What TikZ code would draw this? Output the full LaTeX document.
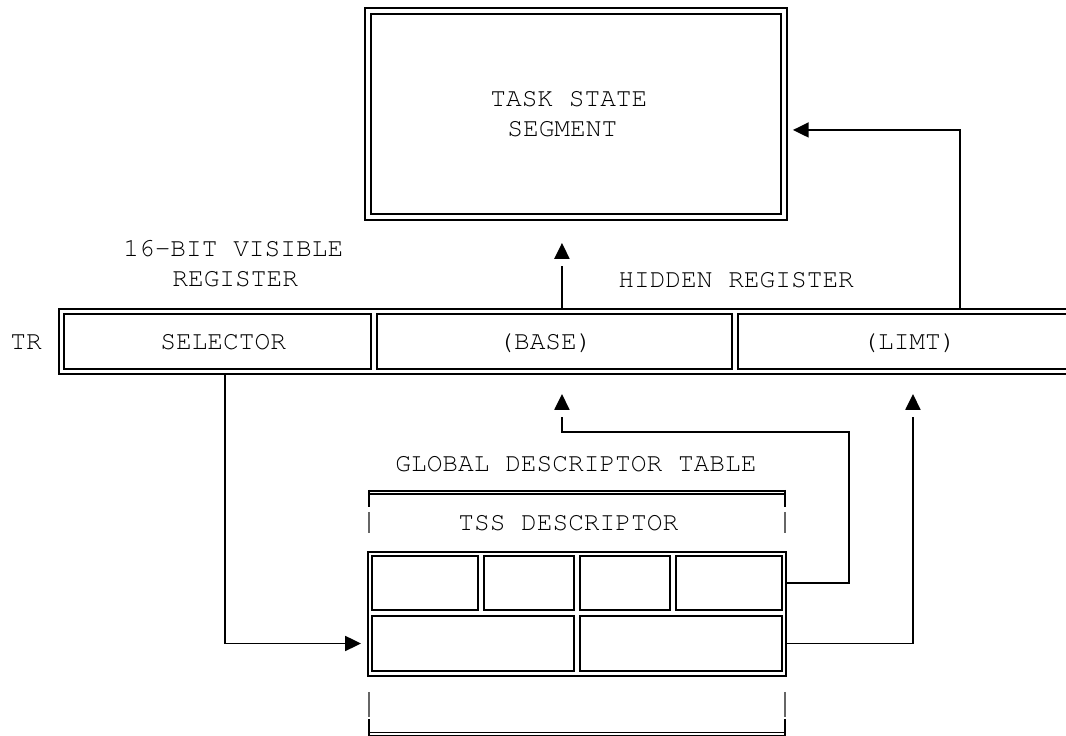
\documentclass[tikz,border=0pt]{standalone}
\usepackage[T1]{fontenc}
\usepackage{courier}
\usetikzlibrary{arrows.meta, calc}

\begin{document}
\begin{tikzpicture}[
    x=0.02cm, y=-0.02cm,
    cell/.style={draw=black, line width=1.13pt, inner sep=0pt, outer sep=0pt, anchor=north west},
    dcell/.style={cell, double, double distance=2.27pt},
    txt/.style={inner sep=0pt, anchor=base west, font=\ttfamily\fontsize{14.9}{17}\selectfont},
    arr/.style={line width=1.13pt, -{Triangle[width=8.5pt,length=9pt]}},
    ln/.style={line width=1.13pt},
    dline/.style={line width=1.13pt, double, double distance=0.57pt},
    vbar/.style={line width=0.8pt, black!60}
]
\useasboundingbox (0,0) rectangle (1066,736);

% task state segment
\node[dcell, minimum width=8.32cm, minimum height=4.12cm] (tss) at (368,11) {};
\node[txt] (tss1) at (490,107) {TASK STATE};
\node[txt] (tss2) at (507,137) {SEGMENT};

% register labels
\node[txt] (vis1) at (123,257) {16-BIT VISIBLE};
\node[txt] (vis2) at (172,287) {REGISTER};
\node[txt] (hid) at (618,288) {HIDDEN REGISTER};

% task register
\node[txt] (tr) at (10,350) {TR};
\node[cell, minimum width=20.22cm, minimum height=1.30cm] (trreg) at (59,309) {};
\node[cell, minimum width=6.14cm, minimum height=1.10cm] (sel) at (64,314) {};
\node[cell, minimum width=7.10cm, minimum height=1.10cm] (base) at (377,314) {};
\node[cell, minimum width=7.00cm, minimum height=1.10cm] (limt) at (738,314) {};
\node[txt] (seltxt) at (160,350) {SELECTOR};
\node[txt] (basetxt) at (498,350) {(BASE)};
\node[txt] (limttxt) at (862,350) {(LIMT)};

% global descriptor table
\node[txt] (gdt) at (395,472) {GLOBAL DESCRIPTOR TABLE};
\node[txt] (tssd) at (458,531) {TSS DESCRIPTOR};
\draw[dline] (368,492.5) -- (786,492.5);
\draw[dline] (368,734) -- (786,734);
\draw[ln] (369,490) -- (369,507);
\draw[ln] (785,490) -- (785,507);
\draw[vbar] (369,512) -- (369,533);
\draw[vbar] (785,512) -- (785,533);
\draw[vbar] (369,692) -- (369,717);
\draw[vbar] (785,692) -- (785,717);
\draw[ln] (369,719) -- (369,737);
\draw[ln] (785,719) -- (785,737);

% descriptor fields
\node[cell, minimum width=8.36cm, minimum height=2.48cm] (desc) at (368,552) {};
\node[cell, minimum width=2.12cm, minimum height=1.08cm] (d1) at (372,556) {};
\node[cell, minimum width=1.80cm, minimum height=1.08cm] (d2) at (484,556) {};
\node[cell, minimum width=1.80cm, minimum height=1.08cm] (d3) at (580,556) {};
\node[cell, minimum width=2.12cm, minimum height=1.08cm] (d4) at (676,556) {};
\node[cell, minimum width=4.04cm, minimum height=1.10cm] (d5) at (372,616) {};
\node[cell, minimum width=4.04cm, minimum height=1.10cm] (d6) at (580,616) {};

% connectors (vertical ones stop short of their tips)
\coordinate (bturn) at (849,432);
\draw[arr, shorten >=0.14cm] ($(sel.south |- trreg.south)+(7.5,0)$) |- (desc.west |- d5.west);
\draw[ln, shorten >=0.96cm] (desc.east |- d4.east) -| (bturn) -| ($(base.south)+(7.5,0)$);
\draw[arr] ($(base.south)+(7.5,40)$) -- ($(base.south)+(7.5,25)$);
\draw[ln, shorten >=0.96cm] (desc.east |- d6.east) -| (limt.south);
\draw[arr] ($(limt.south)+(0,40)$) -- ($(limt.south)+(0,25)$);
\draw[ln, shorten >=0.98cm] ($(base.north |- trreg.north)+(7.5,0)$) -- ($(base.north |- tss.south)+(7.5,0)$);
\draw[arr] ($(base.north |- tss.south)+(7.5,40)$) -- ($(base.north |- tss.south)+(7.5,26)$);
\draw[arr, shorten >=0.18cm] ($(limt.north |- trreg.north)+(47,0)$) |- ($(tss.east)+(0,16)$);

\end{tikzpicture}
\end{document}
